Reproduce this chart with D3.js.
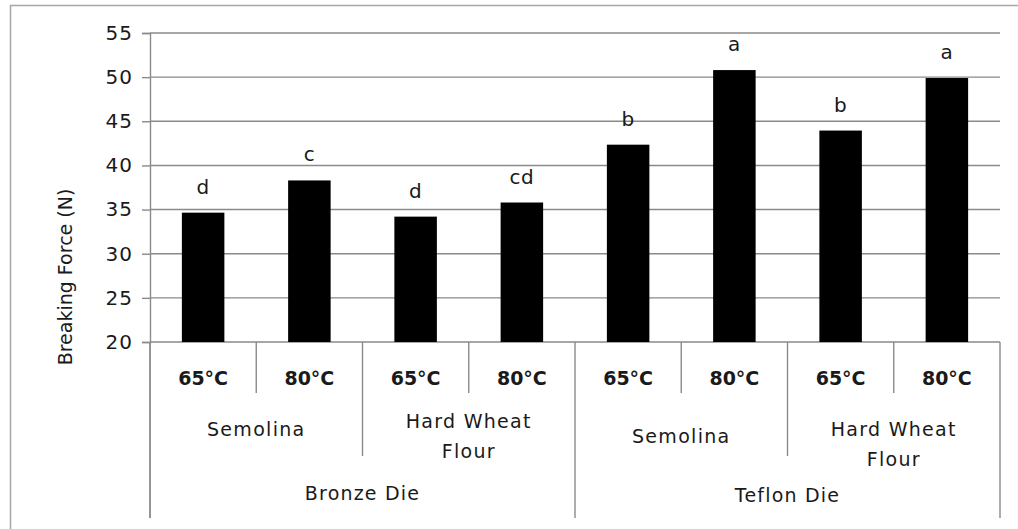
<!DOCTYPE html>
<html>
<head>
<meta charset="utf-8">
<script src="https://cdn.jsdelivr.net/npm/d3@7/dist/d3.min.js"></script>
<style>
html,body{margin:0;padding:0;background:#fff;}
svg{display:block;}
text{font-family:"DejaVu Sans",Verdana,sans-serif;fill:#1a1a1a;}
</style>
</head>
<body>
<svg id="chart" width="1018" height="529"></svg>
<script>
// ---- data ----
const temps = ["65°C","80°C","65°C","80°C","65°C","80°C","65°C","80°C"];
const flours = [["Semolina"],["Hard Wheat","Flour"],["Semolina"],["Hard Wheat","Flour"]];
const dies = ["Bronze Die","Teflon Die"];
const values = [34.65, 38.3, 34.2, 35.8, 42.35, 50.8, 43.95, 49.9];
const letters = ["d","c","d","cd","b","a","b","a"];
const yTicks = [20,25,30,35,40,45,50,55];
const yTitle = "Breaking Force (N)";

// ---- layout ----
const svg = d3.select("#chart");
const L = 150, R = 1000, T = 33, B = 342;
const grid = "#8a8a8a";

svg.append("rect").attr("x",10.5).attr("y",5.5).attr("width",1030).attr("height",540)
  .attr("fill","#fff").attr("stroke","#a6a6a6").attr("stroke-width",1.5);

const idx = d3.range(values.length);
const x = d3.scaleBand().domain(idx).range([L,R]).paddingInner(0).paddingOuter(0);
const xBar = d3.scaleBand().domain(idx).range([L,R]).paddingInner(0.6).paddingOuter(0.3);
const y = d3.scaleLinear().domain([20,55]).range([B,T]);

// gridlines
svg.append("g").selectAll("line").data(yTicks).join("line")
  .attr("x1",L).attr("x2",R).attr("y1",d=>y(d)).attr("y2",d=>y(d))
  .attr("stroke",grid).attr("stroke-width",1.4);

// y axis
const yAxis = svg.append("g").attr("transform",`translate(${L},0)`)
  .call(d3.axisLeft(y).tickValues(yTicks).tickSize(8).tickPadding(10));
yAxis.select(".domain").attr("stroke",grid).attr("stroke-width",1.4);
yAxis.selectAll(".tick line").attr("stroke",grid).attr("stroke-width",1.4);
yAxis.selectAll(".tick text").attr("font-size",20).attr("fill","#1a1a1a")
  .attr("letter-spacing",1).attr("dx",1)
  .attr("font-family","DejaVu Sans, sans-serif");
// extend y axis line down through category area
svg.append("line").attr("x1",L).attr("x2",L).attr("y1",B).attr("y2",518)
  .attr("stroke",grid).attr("stroke-width",1.4);

// bars
svg.append("g").selectAll("rect").data(values).join("rect")
  .attr("x",(d,i)=>xBar(i)).attr("width",xBar.bandwidth())
  .attr("y",d=>y(d)).attr("height",d=>y(20)-y(d))
  .attr("fill","#000");

// letter labels
svg.append("g").selectAll("text").data(letters).join("text")
  .attr("x",(d,i)=>x(i)+x.bandwidth()/2)
  .attr("y",(d,i)=>y(values[i])-26)
  .attr("text-anchor","middle").attr("dominant-baseline","central")
  .attr("font-size",20).attr("letter-spacing",0.5).text(d=>d);

// category hierarchy
const step = x.step();
const sep = svg.append("g").attr("stroke",grid).attr("stroke-width",1.4);
d3.range(values.length+1).forEach(i=>{
  let y2 = 393;
  if (i%2===0) y2 = 456;
  if (i%4===0) y2 = 518;
  sep.append("line").attr("x1",L+i*step).attr("x2",L+i*step).attr("y1",B).attr("y2",y2);
});

// temperatures
svg.append("g").selectAll("text").data(temps).join("text")
  .attr("x",(d,i)=>x(i)+step/2).attr("y",378)
  .attr("text-anchor","middle").attr("dominant-baseline","central")
  .attr("font-size",19).attr("font-weight","bold").text(d=>d);

// flours
flours.forEach((lines,g)=>{
  const cx = L + (g*2+1)*step;
  const die = Math.floor(g/2);
  lines.forEach((ln,k)=>{
    const y0 = lines.length===1 ? 429+7*die : 421+8*die+k*30;
    svg.append("text").attr("text-anchor","middle").attr("font-size",19)
      .attr("letter-spacing",1.3)
      .attr("x",cx).attr("y",y0).attr("dominant-baseline","central").text(ln);
  });
});

// dies
svg.append("g").selectAll("text").data(dies).join("text")
  .attr("x",(d,i)=>L+(i*4+2)*step).attr("y",(d,i)=>493+2*i)
  .attr("text-anchor","middle").attr("dominant-baseline","central")
  .attr("font-size",19).attr("letter-spacing",1.2).text(d=>d);

// y title
svg.append("text").attr("transform","translate(65,277) rotate(-90)")
  .attr("text-anchor","middle").attr("dominant-baseline","central")
  .attr("font-size",19).text(yTitle);
</script>
</body>
</html>
